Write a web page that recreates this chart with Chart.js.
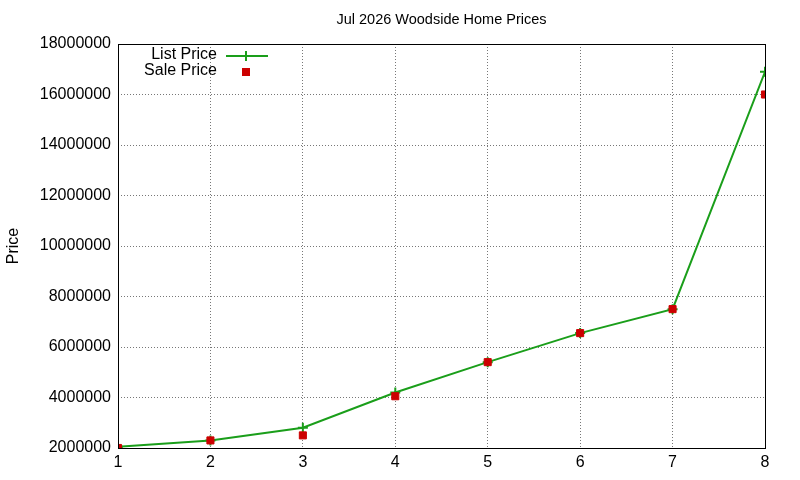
<!DOCTYPE html>
<html><head><meta charset="utf-8">
<script src="https://cdn.jsdelivr.net/npm/chart.js@4"></script>
<style>html,body{margin:0;background:#fff}#w{width:800px;height:480px}</style>
</head><body><div id="w"><canvas id="c"></canvas></div>
<script>
const categories=[1,2,3,4,5,6,7,8];
const listPrice=[2050000,2300000,2800000,4200000,5400000,6550000,7500000,16900000];
const salePrice=[2000000,2300000,2500000,4050000,5400000,6550000,7500000,16000000];
const yTicks=[2000000,4000000,6000000,8000000,10000000,12000000,14000000,16000000,18000000];
const title='Jul 2026 Woodside Home Prices';
const F='"Liberation Sans", Arial, sans-serif';
const deco={id:'deco',afterDraw(ch){const c=ch.ctx,a=ch.chartArea;c.save();
c.strokeStyle='#000';c.lineWidth=1;c.setLineDash([]);c.strokeRect(a.left+0.5,a.top+0.5,a.right-a.left,a.bottom-a.top);
c.fillStyle='#000';c.font='14.5px '+F;c.textAlign='center';c.textBaseline='middle';
c.fillText(title,(a.left+a.right)/2,20);
c.font='16px '+F;c.textAlign='right';c.fillText('List Price',217,55);c.fillText('Sale Price',217,71);
c.strokeStyle='#1a9e1a';c.lineWidth=2;c.beginPath();c.moveTo(226,56);c.lineTo(268,56);c.stroke();
c.beginPath();c.moveTo(246,51);c.lineTo(246,61);c.stroke();
c.fillStyle='#cc0000';c.fillRect(242,68,8,8);
c.restore();}};
new Chart(document.getElementById('c'),{type:'line',
data:{datasets:[
{label:'List Price',order:2,data:categories.map((x,i)=>({x,y:listPrice[i]})),borderColor:'#1a9e1a',borderWidth:2,pointStyle:'cross',pointRadius:5,pointBorderColor:'#1a9e1a',pointBorderWidth:2,tension:0},
{label:'Sale Price',order:1,data:categories.map((x,i)=>({x,y:salePrice[i]})),showLine:false,pointStyle:'rect',pointRadius:5,pointBackgroundColor:'#cc0000',pointBorderColor:'#cc0000'}]},
options:{responsive:true,maintainAspectRatio:false,animation:false,
layout:{padding:{top:44,right:35,left:4,bottom:0}},
plugins:{legend:{display:false},title:{display:false},tooltip:{enabled:false}},
scales:{
x:{type:'linear',min:1,max:8,afterFit(s){s.height=32},afterBuildTicks(s){s.ticks=categories.map(v=>({value:v}))},
grid:{color:'#777',drawTicks:false},border:{display:false,dash:[1,2]},
ticks:{color:'#000',font:{family:F,size:16},padding:5}},
y:{min:2000000,max:18000000,afterFit(s){s.width=114},afterBuildTicks(s){s.ticks=yTicks.map(v=>({value:v}))},
grid:{color:'#777',drawTicks:false},border:{display:false,dash:[1,2]},
ticks:{color:'#000',font:{family:F,size:16},padding:7,callback:v=>String(v)},
title:{display:true,text:'Price',color:'#000',font:{family:F,size:16},padding:0}}}},
plugins:[deco]});
</script></body></html>
